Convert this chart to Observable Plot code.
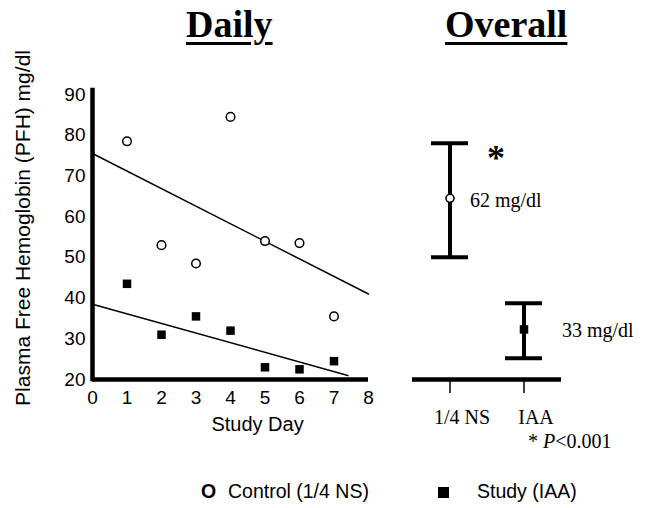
<!DOCTYPE html>
<html>
<head>
<meta charset="utf-8">
<script src="https://cdn.jsdelivr.net/npm/d3@7"></script>
<script src="https://cdn.jsdelivr.net/npm/@observablehq/plot@0.6"></script>
<style>
  html, body { margin: 0; padding: 0; background: white; }
  #root { position: relative; width: 650px; height: 508px; overflow: hidden; background: white; }
  #root svg { position: absolute; top: 0; }
  .title { position: absolute; top: 5px; font-family: "Liberation Serif", "Times New Roman", serif; font-weight: bold; font-size: 38px; line-height: 38px; text-decoration: underline; text-decoration-thickness: 3px; text-underline-offset: 5px; white-space: nowrap; }
  .leg { position: absolute; top: 482px; font-family: "Liberation Sans", Arial, sans-serif; font-size: 19.5px; line-height: 19.5px; white-space: nowrap; }
  .note { position: absolute; left: 528px; top: 431px; font-family: "Liberation Serif", "Times New Roman", serif; font-size: 20px; line-height: 20px; white-space: nowrap; }
  .sq { position: absolute; left: 438px; top: 487px; width: 11px; height: 11px; background: black; }
</style>
</head>
<body>
<div id="root">
  <div class="title" style="left:186px">Daily</div>
  <div class="title" style="left:445px">Overall</div>
  <div class="note">* <i>P</i>&lt;0.001</div>
  <div class="leg" style="left:201px; font-weight:bold; font-size:19.5px;">O</div>
  <div class="leg" style="left:228px">Control (1/4 NS)</div>
  <div class="sq"></div>
  <div class="leg" style="left:477px">Study (IAA)</div>
</div>
<script>
// ---- Daily panel data ----
const days = [1, 2, 3, 4, 5, 6, 7];
const controlPFH = [78.5, 53, 48.5, 84.5, 54, 53.5, 35.5];
const studyPFH = [43.5, 31, 35.5, 32, 23, 22.5, 24.5];
const controlFitDays = [0, 8];
const controlFitPFH = [75.5, 41];
const studyFitDays = [0, 7.4];
const studyFitPFH = [38.5, 21];
const xTicks = [0, 1, 2, 3, 4, 5, 6, 7, 8];
const yTicks = [20, 30, 40, 50, 60, 70, 80, 90];

// ---- Overall panel data ----
const groups = ["1/4 NS", "IAA"];
const overallMean = [64.5, 32.3];
const overallLow = [50, 25.2];
const overallHigh = [78, 38.7];
const meanLabels = ["62 mg/dl", "33 mg/dl"];

const yLabel = "Plasma Free Hemoglobin (PFH) mg/dl";
const xLabel = "Study Day";

const daily = days.map((d, i) => ({day: d, control: controlPFH[i], study: studyPFH[i]}));
const controlFit = controlFitDays.map((d, i) => ({day: d, pfh: controlFitPFH[i]}));
const studyFit = studyFitDays.map((d, i) => ({day: d, pfh: studyFitPFH[i]}));
const overall = groups.map((g, i) => ({group: g, mean: overallMean[i], low: overallLow[i], high: overallHigh[i], label: meanLabels[i]}));

const sans = "'Liberation Sans', Arial, sans-serif";
const serif = "'Liberation Serif', 'Times New Roman', serif";

const left = Plot.plot({
  width: 400, height: 450,
  marginLeft: 92, marginRight: 32, marginTop: 94, marginBottom: 71,
  x: {domain: [0, 8]},
  y: {domain: [20, 90]},
  style: {fontFamily: sans, fontSize: "19px", color: "black", background: "transparent", overflow: "visible"},
  marks: [
    Plot.axisX({ticks: xTicks, tickSize: 0, tickPadding: 11, label: null, fontSize: 19}),
    Plot.axisY({ticks: yTicks, tickSize: 0, tickPadding: 7, label: null, fontSize: 19}),
    Plot.line(controlFit, {x: "day", y: "pfh", stroke: "black", strokeWidth: 1.5}),
    Plot.line(studyFit, {x: "day", y: "pfh", stroke: "black", strokeWidth: 1.5}),
    Plot.dot(daily, {x: "day", y: "control", r: 4.3, stroke: "black", fill: "white", strokeWidth: 1.5}),
    Plot.dot(daily, {x: "day", y: "study", symbol: "square", r: 4.8, fill: "black", stroke: "none"}),
    Plot.ruleX([0], {stroke: "black", strokeWidth: 4.5, strokeLinecap: "square", insetTop: -4}),
    Plot.ruleY([20], {stroke: "black", strokeWidth: 4.5}),
    Plot.text([yLabel], {frameAnchor: "left", textAnchor: "middle", lineAnchor: "middle", rotate: -90, dx: -69, dy: -9, fontSize: 21, fill: "black"}),
    Plot.text([xLabel], {frameAnchor: "bottom", textAnchor: "middle", lineAnchor: "middle", dx: 27, dy: 45, fontSize: 20, fill: "black"})
  ]
});
left.style.left = "0px";

const right = Plot.plot({
  width: 250, height: 450,
  marginLeft: 12, marginRight: 89, marginTop: 94, marginBottom: 71,
  x: {type: "band", domain: groups, paddingInner: 0.5, paddingOuter: 0.25},
  y: {domain: [20, 90], axis: null},
  style: {fontFamily: serif, fontSize: "20px", color: "black", background: "transparent", overflow: "visible"},
  marks: [
    Plot.axisX({tickSize: 14, tickPadding: 0, tickFormat: () => "", label: null, strokeWidth: 1.5}),
    Plot.axisX({tickSize: 0, tickPadding: 30, dx: 12, label: null, fontSize: 20, fontFamily: serif}),
    Plot.ruleY([20], {stroke: "black", strokeWidth: 4.5}),
    Plot.ruleX(overall, {x: "group", y1: "low", y2: "high", stroke: "black", strokeWidth: 4}),
    Plot.tickY(overall, {x: "group", y: "low", stroke: "black", strokeWidth: 4}),
    Plot.tickY(overall, {x: "group", y: "high", stroke: "black", strokeWidth: 4}),
    Plot.dot(overall.filter(d => d.group === groups[0]), {x: "group", y: "mean", r: 4, fill: "white", stroke: "black", strokeWidth: 1.6}),
    Plot.dot(overall.filter(d => d.group === groups[1]), {x: "group", y: "mean", symbol: "square", r: 4.8, fill: "black", stroke: "none"}),
    Plot.text(overall.filter(d => d.group === groups[0]), {x: "group", y: "mean", text: "label", textAnchor: "start", dx: 20, dy: 2, fontSize: 20, fontFamily: serif, fill: "black"}),
    Plot.text(overall.filter(d => d.group === groups[1]), {x: "group", y: "mean", text: "label", textAnchor: "start", dx: 38, dy: 1, fontSize: 20, fontFamily: serif, fill: "black"}),
    Plot.text(overall.filter(d => d.group === groups[0]), {x: "group", y: "high", text: () => "*", textAnchor: "middle", dx: 46, dy: 15, fontSize: 36, fontWeight: "bold", fontFamily: serif, fill: "black"})
  ]
});
right.style.left = "400px";

const root = document.getElementById("root");
root.insertBefore(right, root.firstChild);
root.insertBefore(left, root.firstChild);
</script>
</body>
</html>
